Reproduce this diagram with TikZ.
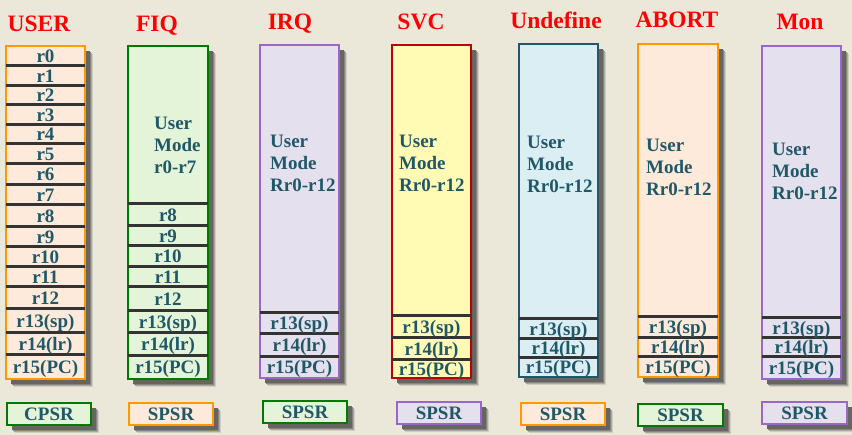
\documentclass[tikz,border=0pt]{standalone}
\usepackage{fontspec}
\setmainfont{Liberation Serif}[BoldFont={Liberation Serif Bold}]
\newfontfamily\myserif{Liberation Serif}[BoldFont={Liberation Serif Bold}]
\definecolor{bgc}{HTML}{EBE8D9}
\definecolor{orgB}{HTML}{FF9900}
\definecolor{orgF}{HTML}{FDEADB}
\definecolor{grnB}{HTML}{007A00}
\definecolor{grnF}{HTML}{E3F4D9}
\definecolor{purB}{HTML}{9966CC}
\definecolor{purF}{HTML}{E4E0EE}
\definecolor{redB}{HTML}{C00000}
\definecolor{yelF}{HTML}{FFFBB5}
\definecolor{tealB}{HTML}{215868}
\definecolor{bluF}{HTML}{DBEEF4}
\definecolor{txtc}{HTML}{215868}
\definecolor{divc}{HTML}{333333}
\definecolor{shA}{HTML}{CFCCC0}
\definecolor{shB}{HTML}{ABA9A0}
\definecolor{shC}{HTML}{86857F}
\definecolor{shD}{HTML}{666561}
\newcommand\myregfont{\myserif\bfseries\fontsize{19}{22}\selectfont}
\newcommand\mytitlefont{\myserif\bfseries\fontsize{23.5}{26}\selectfont}
\tikzset{
  colbox/.style={line width=2pt, inner sep=0pt},
  divider/.style={draw=divc, line width=3pt},
  reg/.style={text=txtc, font=\myregfont, inner sep=0pt, text height=12.5pt, text depth=0pt},
  umode/.style={text=txtc, font=\myregfont, inner sep=0pt, align=left, anchor=west},
  ttl/.style={text=red, font=\mytitlefont, inner sep=0pt, text height=15.5pt, text depth=0pt},
}
\newcommand\mkbox[7]{%
  \path[fill=shA] (#2+8,#3+8) rectangle (#4+8,#5+8);
  \path[fill=shB] (#2+7,#3+7) rectangle (#4+7,#5+7);
  \path[fill=shC] (#2+6,#3+6) rectangle (#4+6,#5+6);
  \path[fill=shD] (#2+5,#3+5) rectangle (#4+5,#5+5);
  \path[draw=#6, fill=#7, line width=2pt] (#2,#3) rectangle (#4,#5);
  \node[inner sep=0pt, minimum width=#4-#2, minimum height=#5-#3] (#1) at ({(#2+#4)/2},{(#3+#5)/2}) {};}
\begin{document}
\begin{tikzpicture}[x=1pt,y=-1pt]
\useasboundingbox (0,0) rectangle (852,435);
\fill[bgc] (0,0) rectangle (852,435);

% titles
\node[ttl] (tuser) at (39,24) {USER};
\node[ttl] (tfiq) at (157,24) {FIQ};
\node[ttl] (tirq) at (290,22) {IRQ};
\node[ttl] (tsvc) at (421,22) {SVC};
\node[ttl] (tund) at (556,21) {Undefine};
\node[ttl] (tabt) at (677,20) {ABORT};
\node[ttl] (tmon) at (800,21.5) {Mon};

% columns
\mkbox{user}{6}{46}{85}{379}{orgB}{orgF}
\mkbox{fiq}{128}{46}{208}{379}{grnB}{grnF}
\mkbox{irq}{260}{45}{339}{378}{purB}{purF}
\mkbox{svc}{392}{45}{471}{378}{redB}{yelF}
\mkbox{und}{519}{44}{598}{377}{tealB}{bluF}
\mkbox{abt}{638}{44}{718}{377}{orgB}{orgF}
\mkbox{mon}{762}{46}{841}{379}{purB}{purF}

% status boxes
\mkbox{cpsr}{7}{403}{91}{425}{grnB}{grnF}
\mkbox{sfiq}{129}{403}{213}{425}{orgB}{orgF}
\mkbox{sirq}{263}{401}{347}{423}{grnB}{grnF}
\mkbox{ssvc}{397}{402}{481}{424}{purB}{purF}
\mkbox{sund}{521}{403}{605}{425}{orgB}{orgF}
\mkbox{sabt}{638}{404}{723}{426}{grnB}{grnF}
\mkbox{smon}{762}{402}{847}{424}{purB}{purF}
\node[reg] (lcpsr) at (cpsr) {CPSR};
\node[reg] (lsfiq) at (sfiq) {SPSR};
\node[reg] (lsirq) at (sirq) {SPSR};
\node[reg] (lssvc) at (ssvc) {SPSR};
\node[reg] (lsund) at (sund) {SPSR};
\node[reg] (lsabt) at (sabt) {SPSR};
\node[reg] (lsmon) at (smon) {SPSR};

% USER registers
\foreach \yy in {66,86,105,125,144,164,185,205,227,247,267,287,309,333,355}
  \draw[divider] (user.west |- 0,\yy) -- (user.east |- 0,\yy);
\foreach \a/\b/\t [count=\i] in {46/66/r0,66/86/r1,86/105/r2,105/125/r3,125/144/r4,144/164/r5,164/185/r6,185/205/r7,205/227/r8,227/247/r9,247/267/r10,267/287/r11,287/309/r12,309/333/r13(sp),333/355/r14(lr),355/379/r15(PC)}
  \node[reg] (u\i) at (45.5,{(\a+\b)/2}) {\t};

% FIQ registers
\foreach \yy in {204,226,246,267,287,311,333,356}
  \draw[divider] (fiq.west |- 0,\yy) -- (fiq.east |- 0,\yy);
\foreach \a/\b/\t [count=\i] in {204/226/r8,226/246/r9,246/267/r10,267/287/r11,287/311/r12,311/333/r13(sp),333/356/r14(lr),356/379/r15(PC)}
  \node[reg] (f\i) at (168,{(\a+\b)/2}) {\t};
\node[umode] (fum) at (154,145) {User\\Mode\\r0-r7};

% other modes: banked r13-r15
\foreach \n/\c/\da/\db/\dc/\bt/\ux/\uy in {irq/299.5/313/334/357/378/270/163, svc/431.5/316/338/360/378/399/163, und/558.5/319/339/358/377/527/164, abt/678/317/338/357/377/646/167, mon/801.5/318/338/357/379/772/171}{
  \draw[divider] (\n.west |- 0,\da) -- (\n.east |- 0,\da);
  \draw[divider] (\n.west |- 0,\db) -- (\n.east |- 0,\db);
  \draw[divider] (\n.west |- 0,\dc) -- (\n.east |- 0,\dc);
  \node[reg] (\n13) at (\c,{(\da+\db)/2}) {r13(sp)};
  \node[reg] (\n14) at (\c,{(\db+\dc)/2}) {r14(lr)};
  \node[reg] (\n15) at (\c,{(\dc+\bt)/2}) {r15(PC)};
  \node[umode] (\n um) at (\ux,\uy) {User\\Mode\\Rr0-r12};
}
\end{tikzpicture}
\end{document}
